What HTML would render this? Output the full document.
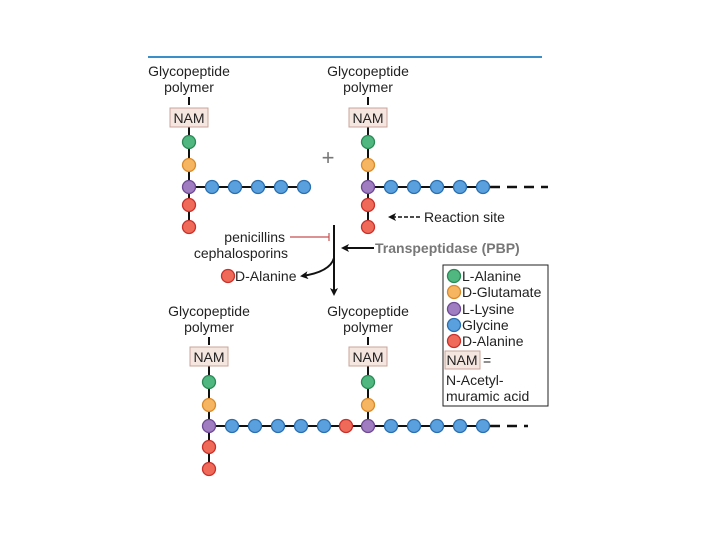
<!DOCTYPE html>
<html><head><meta charset="utf-8"><style>
html,body{margin:0;padding:0;background:#fff;}
svg{display:block;font-family:"Liberation Sans",sans-serif;}
</style></head><body>
<svg width="720" height="540" viewBox="0 0 720 540" xmlns="http://www.w3.org/2000/svg">
<defs>
<marker id="ah" markerWidth="8" markerHeight="8" refX="6" refY="4" orient="auto" markerUnits="userSpaceOnUse"><path d="M0,0 L8,4 L0,8 L2,4 Z" fill="#111"/></marker>
</defs>
<line x1="148" y1="57" x2="542" y2="57" stroke="#3a8fc8" stroke-width="2"/>
<g font-size="14" fill="#222" text-anchor="middle">
<text x="189" y="76">Glycopeptide</text><text x="189" y="92">polymer</text>
<text x="368" y="76">Glycopeptide</text><text x="368" y="92">polymer</text>
<text x="209" y="316">Glycopeptide</text><text x="209" y="332">polymer</text>
<text x="368" y="316">Glycopeptide</text><text x="368" y="332">polymer</text>
</g>
<g stroke="#111" stroke-width="2">
<line x1="189" y1="97" x2="189" y2="105"/><line x1="189" y1="127" x2="189" y2="227"/>
<line x1="189" y1="187" x2="304" y2="187"/>
<line x1="368" y1="97" x2="368" y2="105"/><line x1="368" y1="127" x2="368" y2="227"/>
<line x1="368" y1="187" x2="488" y2="187"/>
<line x1="490" y1="187" x2="548" y2="187" stroke-dasharray="10,7" stroke-width="2.5"/>
<line x1="209" y1="337" x2="209" y2="345"/><line x1="209" y1="366" x2="209" y2="469"/>
<line x1="368" y1="337" x2="368" y2="345"/><line x1="368" y1="366" x2="368" y2="426"/>
<line x1="209" y1="426" x2="488" y2="426"/>
<line x1="490" y1="426" x2="528" y2="426" stroke-dasharray="10,7" stroke-width="2.5"/>
</g>
<g fill="#f5e6e0" stroke="#c9a49a" stroke-width="1">
<rect x="170" y="108" width="38" height="19"/><rect x="349" y="108" width="38" height="19"/>
<rect x="190" y="347" width="38" height="19"/><rect x="349" y="347" width="38" height="19"/>
<rect x="445" y="351" width="35" height="18"/>
</g>
<g font-size="14" fill="#222" text-anchor="middle">
<text x="189" y="123">NAM</text><text x="368" y="123">NAM</text>
<text x="209" y="362">NAM</text><text x="368" y="362">NAM</text>
<text x="462" y="365">NAM</text>
</g>
<g stroke-width="1.3">
<circle cx="189" cy="142" r="6.5" fill="#4fb77f" stroke="#2a8a55"/>
<circle cx="189" cy="165" r="6.5" fill="#f6b560" stroke="#d98a2a"/>
<circle cx="189" cy="187" r="6.5" fill="#a07cc0" stroke="#6e4a96"/>
<circle cx="189" cy="205" r="6.5" fill="#f06a5a" stroke="#c8302a"/>
<circle cx="189" cy="227" r="6.5" fill="#f06a5a" stroke="#c8302a"/>
<g fill="#5aa0de" stroke="#2a6fb0">
<circle cx="212" cy="187" r="6.5"/><circle cx="235" cy="187" r="6.5"/><circle cx="258" cy="187" r="6.5"/><circle cx="281" cy="187" r="6.5"/><circle cx="304" cy="187" r="6.5"/>
<circle cx="391" cy="187" r="6.5"/><circle cx="414" cy="187" r="6.5"/><circle cx="437" cy="187" r="6.5"/><circle cx="460" cy="187" r="6.5"/><circle cx="483" cy="187" r="6.5"/>
<circle cx="232" cy="426" r="6.5"/><circle cx="255" cy="426" r="6.5"/><circle cx="278" cy="426" r="6.5"/><circle cx="301" cy="426" r="6.5"/><circle cx="324" cy="426" r="6.5"/>
<circle cx="391" cy="426" r="6.5"/><circle cx="414" cy="426" r="6.5"/><circle cx="437" cy="426" r="6.5"/><circle cx="460" cy="426" r="6.5"/><circle cx="483" cy="426" r="6.5"/>
</g>
<circle cx="368" cy="142" r="6.5" fill="#4fb77f" stroke="#2a8a55"/>
<circle cx="368" cy="165" r="6.5" fill="#f6b560" stroke="#d98a2a"/>
<circle cx="368" cy="187" r="6.5" fill="#a07cc0" stroke="#6e4a96"/>
<circle cx="368" cy="205" r="6.5" fill="#f06a5a" stroke="#c8302a"/>
<circle cx="368" cy="227" r="6.5" fill="#f06a5a" stroke="#c8302a"/>
<circle cx="209" cy="382" r="6.5" fill="#4fb77f" stroke="#2a8a55"/>
<circle cx="209" cy="405" r="6.5" fill="#f6b560" stroke="#d98a2a"/>
<circle cx="209" cy="426" r="6.5" fill="#a07cc0" stroke="#6e4a96"/>
<circle cx="209" cy="447" r="6.5" fill="#f06a5a" stroke="#c8302a"/>
<circle cx="209" cy="469" r="6.5" fill="#f06a5a" stroke="#c8302a"/>
<circle cx="368" cy="382" r="6.5" fill="#4fb77f" stroke="#2a8a55"/>
<circle cx="368" cy="405" r="6.5" fill="#f6b560" stroke="#d98a2a"/>
<circle cx="368" cy="426" r="6.5" fill="#a07cc0" stroke="#6e4a96"/>
<circle cx="346" cy="426" r="6.5" fill="#f06a5a" stroke="#c8302a"/>
<circle cx="228" cy="276" r="6.5" fill="#f06a5a" stroke="#c8302a"/>
<circle cx="454" cy="276" r="6.5" fill="#4fb77f" stroke="#2a8a55"/>
<circle cx="454" cy="292" r="6.5" fill="#f6b560" stroke="#d98a2a"/>
<circle cx="454" cy="309" r="6.5" fill="#a07cc0" stroke="#6e4a96"/>
<circle cx="454" cy="325" r="6.5" fill="#5aa0de" stroke="#2a6fb0"/>
<circle cx="454" cy="341" r="6.5" fill="#f06a5a" stroke="#c8302a"/>
</g>
<text x="328" y="165" font-size="22" fill="#777" text-anchor="middle">+</text>
<line x1="420" y1="217" x2="390" y2="217" stroke="#111" stroke-width="1.5" stroke-dasharray="4,2" marker-end="url(#ah)"/>
<text x="424" y="222" font-size="14" fill="#222">Reaction site</text>
<line x1="334" y1="225" x2="334" y2="294" stroke="#111" stroke-width="2" marker-end="url(#ah)"/>
<line x1="290" y1="237" x2="329" y2="237" stroke="#c85050" stroke-width="1.2"/>
<line x1="329" y1="233" x2="329" y2="241" stroke="#c85050" stroke-width="1.2"/>
<text x="285" y="242" font-size="14" fill="#222" text-anchor="end">penicillins</text>
<text x="288" y="258" font-size="14" fill="#222" text-anchor="end">cephalosporins</text>
<line x1="374" y1="248" x2="343" y2="248" stroke="#111" stroke-width="2" marker-end="url(#ah)"/>
<text x="375" y="253" font-size="14" fill="#777" font-weight="bold">Transpeptidase (PBP)</text>
<path d="M334,258 Q330,272 302,276" fill="none" stroke="#111" stroke-width="2" marker-end="url(#ah)"/>
<text x="235" y="281" font-size="14" fill="#222">D-Alanine</text>
<rect x="443" y="265" width="105" height="141" fill="none" stroke="#222" stroke-width="1"/>
<g font-size="14" fill="#222">
<text x="462" y="281">L-Alanine</text>
<text x="462" y="297">D-Glutamate</text>
<text x="462" y="314">L-Lysine</text>
<text x="462" y="330">Glycine</text>
<text x="462" y="346">D-Alanine</text>
<text x="483" y="365">=</text>
<text x="446" y="385">N-Acetyl-</text>
<text x="446" y="401">muramic acid</text>
</g>
</svg>
</body></html>
